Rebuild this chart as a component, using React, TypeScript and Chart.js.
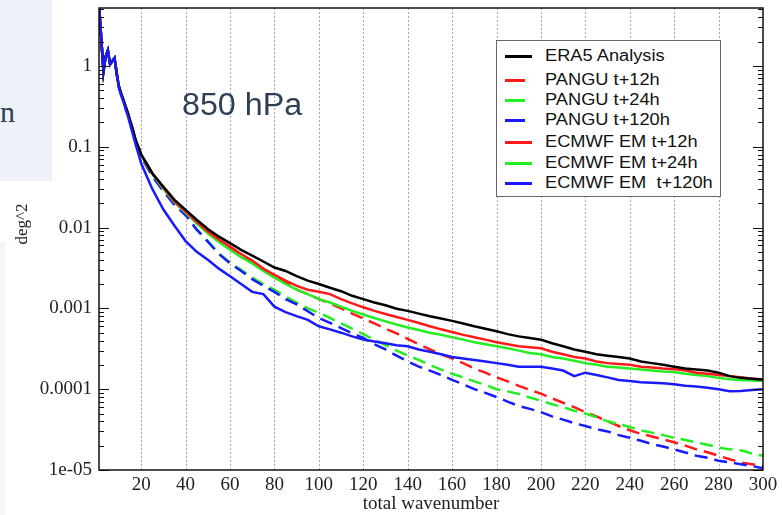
import { useEffect, useRef } from "react";
import { Chart, registerables } from "chart.js";

Chart.register(...registerables);

// ---- data ----
const wavenumbers = [
  1, 2, 3, 4, 5, 6, 7, 8, 9, 10, 11, 12, 13, 14, 15, 16, 17, 18, 19,
  20, 25, 30, 35, 40, 45, 50, 55, 60, 65, 70, 75, 80, 85, 90, 95, 100,
  105, 110, 115, 120, 125, 130, 135, 140, 145, 150, 155, 160, 165, 170, 175, 180,
  185, 190, 195, 200, 205, 210, 215, 220, 225, 230, 235, 240, 245, 250, 255, 260,
  265, 270, 275, 280, 285, 290, 295, 300,
];

// k = 1..19 (shared by most curves)
const lowKShared = [6, 2.2, 0.85, 1.3, 1.55, 1.05, 1.15, 1.25, 0.8, 0.55, 0.45, 0.38, 0.31, 0.26, 0.21, 0.17, 0.135, 0.11, 0.095];
const lowKEcmwf120 = [6, 2.2, 0.85, 1.3, 1.55, 1.05, 1.15, 1.25, 0.78, 0.53, 0.43, 0.36, 0.29, 0.24, 0.19, 0.15, 0.12, 0.095, 0.078];

// k = 20..300 step 5
const era5Tail = [
  0.08, 0.047, 0.032, 0.022, 0.0165, 0.0125, 0.0096, 0.0077, 0.0064, 0.0053, 0.0045, 0.0038, 0.0032, 0.0029, 0.0025, 0.0022, 0.002,
  0.0018, 0.00163, 0.00143, 0.0013, 0.00118, 0.00109, 0.00099, 0.00093, 0.00086, 0.0008, 0.00075, 0.0007, 0.00065, 0.0006, 0.00056, 0.00052,
  0.00048, 0.00045, 0.00043, 0.00041, 0.00037, 0.00034, 0.00031, 0.00029, 0.00027, 0.00026, 0.00025, 0.00024, 0.00022, 0.00021, 0.0002, 0.00019,
  0.00018, 0.000175, 0.00017, 0.00016, 0.000145, 0.000138, 0.000135, 0.000132,
];
const ecmwf12Tail = [
  0.08, 0.047, 0.031, 0.021, 0.0158, 0.0118, 0.0089, 0.0071, 0.0058, 0.0047, 0.0039, 0.0031, 0.0026, 0.0022, 0.0019, 0.0017, 0.0016,
  0.0015, 0.0013, 0.00115, 0.00103, 0.00093, 0.00085, 0.00078, 0.00072, 0.00066, 0.0006, 0.00055, 0.00051, 0.00047, 0.00044, 0.00041, 0.00038,
  0.00036, 0.00034, 0.00033, 0.00032, 0.00029, 0.00027, 0.00025, 0.00024, 0.00022, 0.00021, 0.000205, 0.0002, 0.00019, 0.000185, 0.00018, 0.000177,
  0.00017, 0.00016, 0.000155, 0.00015, 0.000145, 0.00014, 0.000135, 0.000132,
];
const ecmwf24Tail = [
  0.078, 0.046, 0.03, 0.0205, 0.0152, 0.0113, 0.0085, 0.0066, 0.0053, 0.0043, 0.0036, 0.0029, 0.0024, 0.002, 0.0017, 0.0015, 0.0013,
  0.00118, 0.00105, 0.00093, 0.00084, 0.00076, 0.00069, 0.00063, 0.00058, 0.00054, 0.0005, 0.00047, 0.00044, 0.00041, 0.00038, 0.00036, 0.00034,
  0.00032, 0.0003, 0.00028, 0.00027, 0.00025, 0.00024, 0.000225, 0.00021, 0.0002, 0.00019, 0.000185, 0.00018, 0.000175, 0.00017, 0.000165, 0.000163,
  0.000155, 0.00015, 0.000145, 0.000138, 0.000133, 0.00013, 0.000128, 0.000126,
];
const ecmwf120Tail = [
  0.062, 0.03, 0.0167, 0.0105, 0.0068, 0.005, 0.004, 0.0031, 0.0025, 0.002, 0.0016, 0.0015, 0.00105, 0.0009, 0.0008, 0.00072, 0.0006,
  0.00055, 0.0005, 0.00045, 0.00041, 0.00039, 0.00037, 0.00035, 0.00034, 0.00031, 0.00029, 0.00027, 0.00025, 0.00024, 0.00023, 0.00022, 0.00021,
  0.0002, 0.00019, 0.00019, 0.00019, 0.00018, 0.00017, 0.000145, 0.00016, 0.00015, 0.00014, 0.00013, 0.000126, 0.000122, 0.00012, 0.000118, 0.000115,
  0.00011, 0.000108, 0.000104, 0.0001, 0.000094, 0.000095, 0.000098, 0.0001,
];
const pangu12Tail = [
  0.08, 0.047, 0.031, 0.021, 0.0155, 0.0115, 0.0087, 0.0068, 0.0055, 0.0045, 0.0037, 0.003, 0.0025, 0.0021, 0.0017, 0.0015, 0.0013,
  0.00115, 0.001, 0.00086, 0.00075, 0.00065, 0.00056, 0.00049, 0.00042, 0.00036, 0.00031, 0.00027, 0.00024, 0.00021, 0.00018, 0.00016, 0.00014,
  0.000125, 0.00011, 0.000098, 0.000088, 0.000077, 0.000068, 0.00006, 0.000052, 0.000046, 0.00004, 0.000035, 0.000031, 0.000028, 0.000026, 0.000024, 0.000022,
  0.00002, 0.000018, 0.0000166, 0.000015, 0.0000136, 0.0000124, 0.0000118, 0.0000112,
];
const pangu24Tail = [
  0.076, 0.044, 0.029, 0.0195, 0.0145, 0.0095, 0.0068, 0.0048, 0.0037, 0.003, 0.0024, 0.002, 0.0017, 0.0014, 0.00118, 0.001, 0.00088,
  0.00076, 0.00065, 0.00056, 0.00048, 0.00041, 0.00035, 0.0003, 0.00026, 0.00023, 0.0002, 0.000175, 0.000155, 0.00014, 0.000125, 0.000113, 0.0001,
  0.000094, 0.000087, 0.000079, 0.000072, 0.000065, 0.00006, 0.000054, 0.00005, 0.000045, 0.00004, 0.000037, 0.000034, 0.000031, 0.000029, 0.000027, 0.000025,
  0.0000235, 0.000022, 0.0000205, 0.000019, 0.000018, 0.0000175, 0.000016, 0.000015,
];
const pangu120Tail = [
  0.075, 0.043, 0.028, 0.019, 0.0142, 0.0094, 0.0067, 0.0047, 0.0036, 0.0029, 0.0023, 0.0019, 0.0016, 0.0013, 0.00112, 0.00092, 0.00076,
  0.00066, 0.00057, 0.00049, 0.00043, 0.00036, 0.00031, 0.00026, 0.00022, 0.00019, 0.00017, 0.00015, 0.00013, 0.000115, 0.0001, 0.00009, 0.00008,
  0.00007, 0.000062, 0.000057, 0.000052, 0.000046, 0.000042, 0.000038, 0.000035, 0.000032, 0.00003, 0.000027, 0.000025, 0.000023, 0.000021, 0.0000195, 0.000018,
  0.0000165, 0.000015, 0.0000142, 0.000013, 0.0000124, 0.0000118, 0.0000112, 0.0000105,
];

const xTickValues = [20, 40, 60, 80, 100, 120, 140, 160, 180, 200, 220, 240, 260, 280, 300];
const yTickValues = [1e-5, 1e-4, 1e-3, 1e-2, 1e-1, 1];
const yTickLabels = ["1e-05", "0.0001", "0.001", "0.01", "0.1", "1"];
const yAxisTitle = "deg^2";

const seriesLabels = [
  "ERA5 Analysis",
  "PANGU t+12h",
  "PANGU t+24h",
  "PANGU t+120h",
  "ECMWF EM t+12h",
  "ECMWF EM t+24h",
  "ECMWF EM  t+120h",
];
const seriesColors = ["#000000", "#ff1a1a", "#22ee22", "#1a1aff", "#ff1a1a", "#22ee22", "#1a1aff"];
const seriesDashed = [false, true, true, true, false, false, false];

const BLACK = "#111";
const SERIF = "'Liberation Serif', 'DejaVu Serif', serif";

function toPoints(values: number[]) {
  return wavenumbers.map((k, i) => ({ x: k, y: values[i] }));
}

const framePlugin = {
  id: "xmgraceFrame",
  beforeDatasetsDraw(chart: any) {
    const { ctx, chartArea: a, scales } = chart;
    const xs = scales.x;
    ctx.save();
    ctx.strokeStyle = "#a8a8a8";
    ctx.lineWidth = 1;
    ctx.setLineDash([2, 2]);
    for (const v of xTickValues) {
      if (v >= 300) continue;
      const px = Math.round(xs.getPixelForValue(v)) + 0.5;
      ctx.beginPath();
      ctx.moveTo(px, a.top);
      ctx.lineTo(px, a.bottom);
      ctx.stroke();
    }
    ctx.restore();
  },
  afterDatasetsDraw(chart: any) {
    const { ctx, chartArea: a, scales } = chart;
    const ys = scales.y;
    ctx.save();
    ctx.strokeStyle = BLACK;
    ctx.lineWidth = 1.5;
    ctx.setLineDash([]);
    ctx.strokeRect(a.left, a.top, a.right - a.left, a.bottom - a.top);
    ctx.lineWidth = 1;
    for (let d = -5; d <= 0; d++) {
      for (let m = 1; m <= 9; m++) {
        const v = m * Math.pow(10, d);
        if (v < ys.min || v > ys.max) continue;
        const py = Math.round(ys.getPixelForValue(v)) + 0.5;
        const len = m === 1 ? 10 : 5;
        ctx.beginPath();
        ctx.moveTo(a.left, py);
        ctx.lineTo(a.left + len, py);
        ctx.moveTo(a.right, py);
        ctx.lineTo(a.right - len, py);
        ctx.stroke();
      }
    }
    // y-axis title
    ctx.translate(23, 224);
    ctx.rotate(-Math.PI / 2);
    ctx.fillStyle = "#222";
    ctx.font = `17px ${SERIF}`;
    ctx.textAlign = "center";
    ctx.textBaseline = "middle";
    ctx.fillText(yAxisTitle, 0, 0);
    ctx.restore();
  },
};

function SpectrumChart() {
  const ref = useRef<HTMLCanvasElement | null>(null);

  useEffect(() => {
    if (!ref.current) return;
    const seriesValues = [
      [...lowKShared, ...era5Tail],
      [...lowKShared, ...pangu12Tail],
      [...lowKShared, ...pangu24Tail],
      [...lowKShared, ...pangu120Tail],
      [...lowKShared, ...ecmwf12Tail],
      [...lowKShared, ...ecmwf24Tail],
      [...lowKEcmwf120, ...ecmwf120Tail],
    ];
    const drawOrder = [1, 5, 4, 3, 2, 2, 0];
    const chart = new Chart(ref.current, {
      type: "line",
      data: {
        datasets: seriesLabels.map((label, i) => ({
          label,
          data: toPoints(seriesValues[i]),
          borderColor: seriesColors[i],
          backgroundColor: seriesColors[i],
          borderWidth: 2.5,
          borderDash: seriesDashed[i] ? [13, 7] : [],
          pointRadius: 0,
          tension: 0,
          fill: false,
          order: drawOrder[i],
        })),
      },
      options: {
        animation: false,
        responsive: false,
        devicePixelRatio: 1,
        layout: { padding: { left: 0, right: 19, top: 8, bottom: 0 } },
        plugins: { legend: { display: false }, tooltip: { enabled: false } },
        scales: {
          x: {
            type: "linear",
            min: 1,
            max: 300,
            afterFit: (s: any) => {
              s.height = 45;
              s.paddingLeft = 0;
              s.paddingRight = 0;
            },
            afterBuildTicks: (s: any) => {
              s.ticks = xTickValues.map((v) => ({ value: v }));
            },
            grid: { display: false, drawTicks: false },
            border: { display: false },
            ticks: {
              autoSkip: false,
              maxRotation: 0,
              padding: 4,
              color: "#222",
              font: { family: SERIF, size: 19 },
              callback: (v: any) => String(v),
            },
            title: {
              display: true,
              text: "total wavenumber",
              color: "#222",
              padding: { top: 0, bottom: 0 },
              font: { family: SERIF, size: 19 },
            },
          },
          y: {
            type: "logarithmic",
            min: 1e-5,
            max: 5.2,
            afterFit: (s: any) => {
              s.width = 99;
              s.paddingTop = 0;
              s.paddingBottom = 0;
            },
            afterBuildTicks: (s: any) => {
              s.ticks = yTickValues.map((v) => ({ value: v }));
            },
            grid: { display: false, drawTicks: false },
            border: { display: false },
            ticks: {
              autoSkip: false,
              padding: 7,
              color: "#222",
              font: { family: SERIF, size: 19 },
              callback: (v: any) => {
                const idx = yTickValues.findIndex((t) => Math.abs(Math.log10(t) - Math.log10(Number(v))) < 1e-6);
                return idx >= 0 ? yTickLabels[idx] : "";
              },
            },
            title: { display: false },
          },
        },
      },
      plugins: [framePlugin],
    } as any);
    return () => chart.destroy();
  }, []);

  return <canvas ref={ref} width={782} height={515} style={{ position: "absolute", left: 0, top: 0 }} />;
}

const legendRowCenters = [56, 80, 100, 120, 142, 163, 183];

export default function App() {
  return (
    <div style={{ position: "absolute", left: 0, top: 0, width: 782, height: 515, background: "#fff", overflow: "hidden" }}>
      <div style={{ position: "absolute", left: 0, top: 0, width: 52, height: 181, background: "#eef2f8" }} />
      <div style={{ position: "absolute", left: 0, top: 242, width: 5, height: 273, background: "#f3f6fa" }} />
      <div
        style={{
          position: "absolute",
          left: 0,
          top: 97,
          fontFamily: "'Liberation Serif', serif",
          fontSize: 30,
          lineHeight: "30px",
          color: "#2f3f56",
        }}
      >
        n
      </div>
      <SpectrumChart />
      <div
        style={{
          position: "absolute",
          left: 182,
          top: 89,
          fontFamily: "'Liberation Sans', Arial, sans-serif",
          fontSize: 31,
          lineHeight: "31px",
          color: "#2d3e55",
          whiteSpace: "nowrap",
          transform: "scaleX(1.04)",
          transformOrigin: "left center",
        }}
      >
        850 hPa
      </div>
      <div
        style={{
          position: "absolute",
          left: 496,
          top: 40,
          width: 225,
          height: 157,
          border: "1.5px solid #666",
          boxSizing: "border-box",
          background: "#fff",
        }}
      />
      {seriesLabels.map((label, i) => (
        <div key={label}>
          <div
            style={{
              position: "absolute",
              left: 505,
              top: legendRowCenters[i] - 1.5,
              width: seriesDashed[i] ? 20 : 27,
              height: 3,
              background: seriesColors[i],
            }}
          />
          <div
            style={{
              position: "absolute",
              left: 545,
              top: legendRowCenters[i] - 8,
              fontFamily: "'Liberation Sans', Arial, sans-serif",
              fontSize: 16,
              lineHeight: "16px",
              color: "#111",
              whiteSpace: "pre",
              transform: "scaleX(1.14)",
              transformOrigin: "left center",
            }}
          >
            {label}
          </div>
        </div>
      ))}
    </div>
  );
}
